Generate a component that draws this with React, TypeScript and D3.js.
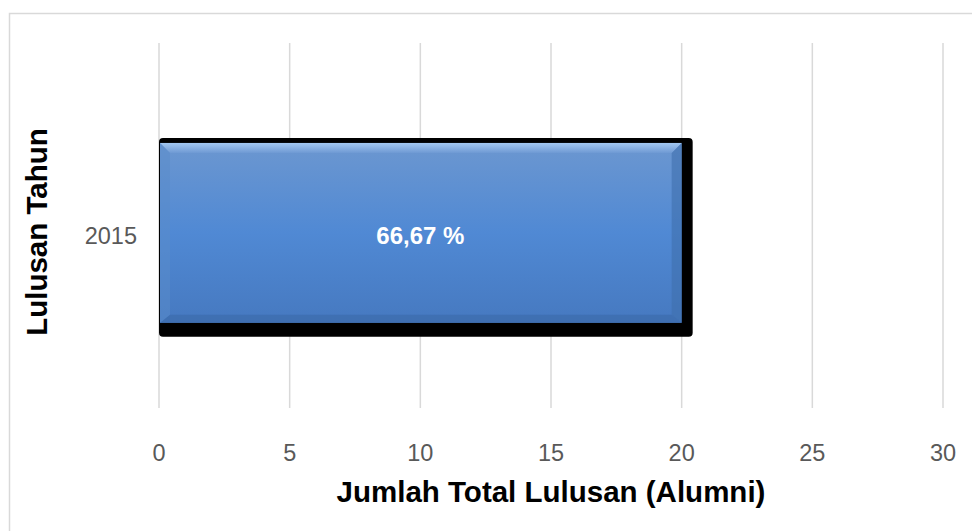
import * as d3 from "d3";

const categories = ["2015"];
const totals = [20];
const labels = ["66,67 %"];
const xTicks = [0, 5, 10, 15, 20, 25, 30];

export default function App() {
  const W = 972, H = 531;
  const plot = { left: 159, right: 943, top: 43, bottom: 408 };
  const x = d3.scaleLinear().domain([0, 30]).range([plot.left, plot.right]);
  // single band, ~180px tall, sitting a bit below centre like the original
  const y = d3.scaleBand().domain(categories).range([plot.top, plot.bottom])
    .paddingInner(0.507).paddingOuter(0.2535).align(0.54);

  return (
    <svg width={W} height={H} style={{ position: "absolute", left: 0, top: 0 }} fontFamily="Liberation Sans, Arial, sans-serif">
      <defs>
        <linearGradient id="barFill" x1="0" y1="0" x2="0" y2="1">
          <stop offset="0" stopColor="#6c97d0" />
          <stop offset="0.5" stopColor="#5089d4" />
          <stop offset="1" stopColor="#4679c0" />
        </linearGradient>
        <linearGradient id="topBevel" x1="0" y1="0" x2="0" y2="1">
          <stop offset="0" stopColor="#a9cdf5" />
          <stop offset="1" stopColor="#6f9ad4" />
        </linearGradient>
      </defs>
      <rect x={9.5} y={13.5} width={975} height={530} fill="#fff" stroke="#d9d9d9" strokeWidth={1.5} />
      {xTicks.map(t => (
        <line key={t} x1={x(t)} x2={x(t)} y1={plot.top} y2={plot.bottom} stroke="#d9d9d9" strokeWidth={1.5} />
      ))}
      {categories.map((c, i) => {
        const y0 = y(c)!;
        const bh = y.bandwidth();
        const x0 = x(0), x1 = x(totals[i]);
        return (
          <g key={c}>
            <rect x={x0} y={y0 - 5} width={x1 - x0 + 11} height={bh + 19} rx={4} fill="#000" />
            <rect x={x0 + 1} y={y0} width={x1 - x0 - 1} height={bh} fill="url(#barFill)" />
            <polygon points={`${x0 + 1},${y0} ${x1},${y0} ${x1 - 10},${y0 + 10} ${x0 + 11},${y0 + 10}`} fill="url(#topBevel)" opacity={0.9} />
            <polygon points={`${x1},${y0} ${x1},${y0 + bh} ${x1 - 10},${y0 + bh - 8} ${x1 - 10},${y0 + 10}`} fill="#3f6fae" opacity={0.6} />
            <polygon points={`${x0 + 1},${y0 + bh} ${x1},${y0 + bh} ${x1 - 10},${y0 + bh - 8} ${x0 + 11},${y0 + bh - 8}`} fill="#3a69a8" opacity={0.6} />
            <polygon points={`${x0 + 1},${y0} ${x0 + 11},${y0 + 10} ${x0 + 11},${y0 + bh - 8} ${x0 + 1},${y0 + bh}`} fill="#5a8bc9" opacity={0.5} />
            <text x={(x0 + x1) / 2} y={y0 + bh / 2 + 11} textAnchor="middle" fill="#fff" fontWeight="bold" fontSize={24}>{labels[i]}</text>
            <text x={plot.left - 22} y={y0 + bh / 2 + 11} textAnchor="end" fill="#595959" fontSize={23.5}>{c}</text>
          </g>
        );
      })}
      {xTicks.map(t => (
        <text key={t} x={x(t)} y={460.5} textAnchor="middle" fill="#595959" fontSize={23.5}>{t}</text>
      ))}
      <text x={551} y={502} textAnchor="middle" fontWeight="bold" fontSize={29.5} fill="#000">Jumlah Total Lulusan (Alumni)</text>
      <text transform={`translate(46.5,232) rotate(-90)`} textAnchor="middle" fontWeight="bold" fontSize={29.5} fill="#000">Lulusan Tahun</text>
    </svg>
  );
}
